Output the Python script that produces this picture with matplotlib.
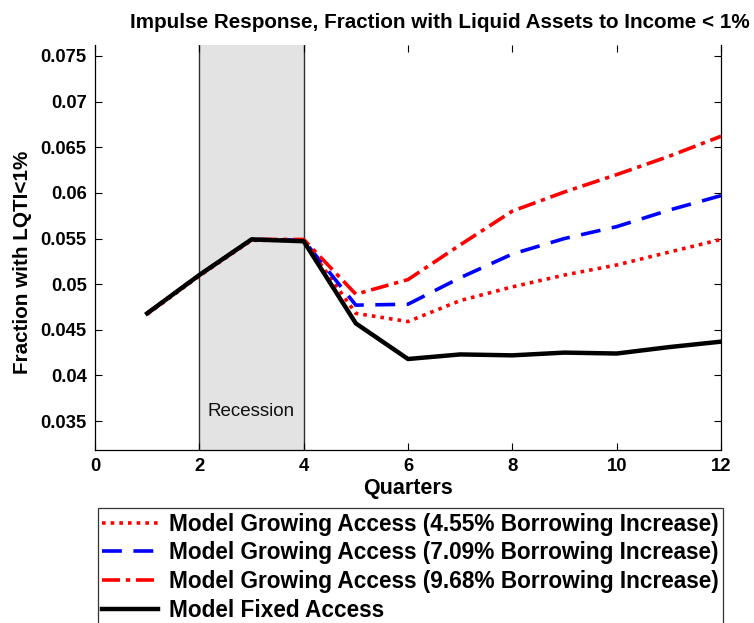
import matplotlib
matplotlib.use("Agg")
import matplotlib.pyplot as plt
import numpy as np

plt.rcParams['font.family'] = ['Liberation Sans', 'DejaVu Sans']

quarters = [1, 2, 3, 4, 5, 6, 7, 8, 9, 10, 11, 12]
growing_455 = [0.0467, 0.0509, 0.0548, 0.0548, 0.0468, 0.0459, 0.0482, 0.0497, 0.0510, 0.0521, 0.0535, 0.0549]
growing_709 = [0.0468, 0.0510, 0.0549, 0.0548, 0.0477, 0.0478, 0.0507, 0.0533, 0.0550, 0.0563, 0.0581, 0.0597]
growing_968 = [0.0468, 0.0510, 0.0549, 0.0549, 0.0489, 0.0505, 0.0543, 0.0580, 0.0601, 0.0620, 0.0640, 0.0662]
fixed_access = [0.0468, 0.0510, 0.0549, 0.0547, 0.0457, 0.0418, 0.0423, 0.0422, 0.0425, 0.0424, 0.0431, 0.0437]

labels = ["Model Growing Access (4.55% Borrowing Increase)",
          "Model Growing Access (7.09% Borrowing Increase)",
          "Model Growing Access (9.68% Borrowing Increase)",
          "Model Fixed Access"]
recession = [2, 4]
x_ticks = [0, 2, 4, 6, 8, 10, 12]
y_ticks = [0.035, 0.04, 0.045, 0.05, 0.055, 0.06, 0.065, 0.07, 0.075]
y_tick_labels = ["0.035", "0.04", "0.045", "0.05", "0.055", "0.06", "0.065", "0.07", "0.075"]

fig = plt.figure(figsize=(7.54, 6.23), dpi=100)
ax = fig.add_axes([95/754, 1-450/623, (721-95)/754, (450-45)/623])

ax.axvspan(recession[0], recession[1], facecolor='#e3e3e3', edgecolor='none', zorder=0)
for xv in recession:
    ax.axvline(xv, color='#303030', lw=1.0, zorder=1)
ax.text(3, 0.0361, "Recession", ha='center', va='center', fontsize=13.5, color='#111111')

lw = 2.6
l1, = ax.plot(quarters, growing_455, color='red', lw=lw, linestyle=(0, (1.0, 1.4)), zorder=3)
l2, = ax.plot(quarters, growing_709, color='blue', lw=lw, linestyle=(0, (5.5, 3.2)), zorder=3)
l3, = ax.plot(quarters, growing_968, color='red', lw=lw, linestyle=(0, (5, 1.6, 1.2, 1.6)), zorder=3)
l4, = ax.plot(quarters, fixed_access, color='black', lw=3.2, zorder=4)

ax.set_xlim(0, 12)
ax.set_ylim(0.03183, 0.0762)
ax.set_xticks(x_ticks)
ax.set_xticklabels([str(v) for v in x_ticks], fontsize=13.3, fontweight='bold')
ax.set_yticks(y_ticks)
ax.set_yticklabels(y_tick_labels, fontsize=13.3, fontweight='bold')
ax.tick_params(direction='in', length=5, width=0.8, top=True, right=True, pad=6)
ax.spines['top'].set_visible(False)
for s in ['left', 'right', 'bottom']:
    ax.spines[s].set_linewidth(0.9)

fig.text(440/754, 1-22/623, "Impulse Response, Fraction with Liquid Assets to Income < 1%",
         fontsize=14.9, fontweight='bold', ha='center', va='center')
ax.set_xlabel("Quarters", fontsize=15.5, fontweight='bold', labelpad=2)
ax.set_ylabel("Fraction with LQTI<1%", fontsize=14.9, fontweight='bold')
ax.yaxis.set_label_coords(-0.100, (450-262)/405)

leg = fig.legend([l1, l2, l3, l4], labels, loc='upper left',
                 bbox_to_anchor=(97.6/754, 1-508/623),
                 prop={'weight': 'bold', 'size': 16.3},
                 frameon=True, fancybox=False, edgecolor='black',
                 handlelength=2.45, handletextpad=0.5, borderpad=0.2,
                 labelspacing=0.26, borderaxespad=0)
leg.get_frame().set_linewidth(0.9)

fig.savefig("out.png", dpi=100)
